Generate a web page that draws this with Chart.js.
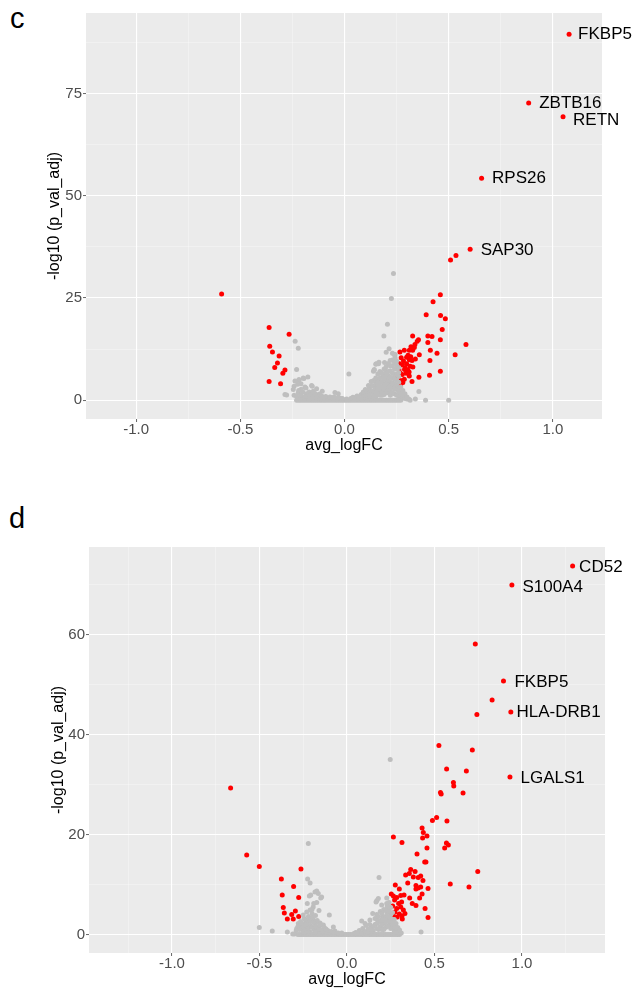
<!DOCTYPE html>
<html>
<head>
<meta charset="utf-8">
<script src="https://cdn.jsdelivr.net/npm/chart.js@4"></script>
<style>
  body { margin: 0; background: #fff; width: 632px; height: 990px; position: relative; overflow: hidden;
         font-family: "Liberation Sans", Arial, sans-serif; }
  .tag { position: absolute; font-size: 29px; line-height: 1; color: #000; }
  .box { position: absolute; left: 0; width: 632px; }
</style>
</head>
<body>
<div class="tag" style="left:10px; top:4px;">c</div>
<div class="box" style="top:0; height:460px;"><canvas id="chartC"></canvas></div>
<div class="tag" style="left:9px; top:504px;">d</div>
<div class="box" style="top:500px; height:490px;"><canvas id="chartD"></canvas></div>

<script>
// ---- panel c ----
const cBandX = [-0.23,-0.22,-0.21,-0.2,-0.19,-0.18,-0.17,-0.16,-0.15,-0.14,-0.13,-0.12,-0.11,-0.1,-0.09,-0.08,-0.07,-0.06,-0.05,-0.04,-0.03,-0.02,-0.01,0,0.01,0.02,0.03,0.04,0.05,0.06,0.07,0.08,0.09,0.1,0.11,0.12,0.13,0.14,0.15,0.16,0.17,0.18,0.19,0.2,0.21,0.22,0.23,0.24,0.25,0.26,0.27];
const cGrey = [
  [-0.237,14.4],[-0.222,12.7],[-0.230,7.5],[-0.218,5.0],[-0.195,5.3],[-0.176,5.7],[-0.198,5.4],[-0.219,5.0],
  [-0.238,4.7],[-0.209,4.0],[-0.158,3.6],[-0.190,3.2],[-0.134,2.8],[-0.246,2.6],[-0.107,2.2],[-0.046,1.9],
  [-0.030,1.6],[-0.286,1.4],[-0.242,1.2],[-0.222,1.8],[-0.278,1.3],[-0.242,3.4],[-0.225,3.9],[-0.208,2.7],
  [-0.185,3.0],[-0.155,3.4],[-0.182,1.6],[-0.150,1.3],[-0.2,0.7],[-0.18,0.9],[-0.16,0.6],[-0.14,0.8],
  [-0.12,0.5],[-0.1,0.7],[-0.08,0.4],[-0.06,0.6],[-0.04,0.3],[-0.02,0.5],[-0.215,0.5],[-0.17,1.1],[-0.13,1.2],
  [-0.23,0.9],[-0.22,2.4],[-0.21,1.3],[-0.20,2.0],[-0.19,0.9],[-0.17,2.0],[-0.16,1.4],[-0.15,2.2],
  [-0.14,1.6],[-0.12,1.5],[-0.11,1.0],[-0.09,0.9],[-0.07,0.8],[-0.05,0.8],[-0.03,0.6],[-0.01,0.4],
  [0.01,0.3],[0.03,0.4],[0.04,0.7],[0.06,0.3],
  [0.021,6.4],
  [0.05,0.6],[0.06,1.0],[0.07,0.5],[0.08,1.4],[0.09,0.9],[0.10,1.8],[0.10,0.6],[0.11,2.4],[0.11,1.2],
  [0.12,1.6],[0.12,3.0],[0.13,0.8],[0.13,2.2],[0.14,3.5],[0.14,1.5],[0.15,2.8],[0.15,4.2],[0.15,0.9],
  [0.16,3.6],[0.16,1.9],[0.16,5.0],[0.17,2.6],[0.17,4.4],[0.17,1.2],[0.18,3.2],[0.18,5.6],[0.18,2.0],
  [0.19,4.0],[0.19,6.2],[0.19,1.4],[0.20,2.8],[0.20,5.0],[0.20,7.0],[0.21,3.6],[0.21,6.0],[0.21,1.8],
  [0.22,4.4],[0.22,7.2],[0.22,2.6],[0.23,5.4],[0.23,8.4],[0.23,3.2],[0.24,6.4],[0.24,9.2],[0.24,4.0],
  [0.24,1.6],[0.25,7.6],[0.25,5.0],[0.25,2.6],[0.26,3.0],[0.26,1.0],[0.27,2.0],[0.27,0.5],
  [0.08,0.4],[0.09,2.0],[0.10,2.6],[0.11,0.4],[0.12,0.9],[0.13,3.6],[0.14,2.4],[0.14,4.8],[0.15,1.8],
  [0.15,5.4],[0.16,2.8],[0.16,4.2],[0.16,6.4],[0.17,3.4],[0.17,5.4],[0.17,7.0],[0.18,1.2],[0.18,4.4],
  [0.18,6.6],[0.19,2.4],[0.19,3.2],[0.19,5.2],[0.19,7.6],[0.20,1.8],[0.20,4.0],[0.20,6.0],[0.20,8.2],
  [0.21,2.6],[0.21,4.8],[0.21,7.0],[0.21,9.0],[0.22,1.2],[0.22,3.4],[0.22,5.6],[0.22,8.4],[0.23,1.8],
  [0.23,4.2],[0.23,6.6],[0.23,9.8],[0.24,2.8],[0.24,5.2],[0.24,7.6],[0.25,1.2],[0.25,3.8],[0.25,6.2],
  [0.25,8.6],[0.26,2.0],[0.26,4.4],[0.26,6.8],[0.27,3.2],[0.27,1.2],[0.28,2.4],[0.28,0.6],[0.29,1.6],
  [0.30,0.3],[0.31,0.2],
  [0.143,7.5],[0.139,7.1],[0.163,8.9],[0.150,8.8],[0.192,9.2],[0.200,11.7],[0.243,11.2],[0.230,11.5],
  [0.189,15.7],[0.214,12.6],[0.206,18.6],[0.225,24.9],[0.235,31.0],[0.238,11.2],[0.243,10.4],[0.219,9.7],
  [0.165,9.3],[0.152,8.9],[0.142,7.3],[0.128,4.6],[0.115,3.6],[0.357,2.1],[0.315,0],[0.389,0],[0.500,0],
  [0.29,0.4],[0.28,1.2],[0.30,0.8],[0.34,0.3],[0.26,5.8],[0.25,9.6],[0.26,8.0]
];
const cRed = [
  [-0.59,26.0],[-0.362,17.8],[-0.266,16.1],[-0.359,13.2],[-0.346,11.8],[-0.314,10.8],[-0.322,9.1],
  [-0.335,8.0],[-0.286,7.4],[-0.296,6.6],[-0.362,4.6],[-0.307,4.0],
  [0.535,35.4],[0.509,34.3],[0.460,25.8],[0.425,24.1],[0.392,20.9],[0.461,20.7],[0.484,19.9],[0.469,17.3],
  [0.327,15.7],[0.400,15.7],[0.420,15.6],[0.355,14.8],[0.349,14.4],[0.460,14.8],[0.400,14.1],[0.583,13.6],
  [0.338,13.6],[0.319,13.1],[0.311,12.2],[0.327,12.2],[0.412,12.2],[0.287,12.2],[0.266,11.8],[0.444,11.5],
  [0.531,11.1],[0.359,11.1],[0.272,10.4],[0.298,10.5],[0.311,9.9],[0.324,9.7],[0.410,9.7],[0.264,8.9],
  [0.278,8.6],[0.298,8.9],[0.315,8.3],[0.328,8.1],[0.261,7.5],[0.288,7.5],[0.304,7.4],[0.460,7.1],
  [0.256,6.3],[0.277,6.3],[0.296,6.6],[0.311,5.9],[0.408,6.1],[0.357,5.6],[0.251,5.4],[0.267,4.9],
  [0.287,5.1],[0.324,4.6],[0.270,3.9],[0.256,3.6],[0.283,9.6],[0.305,11.0],[0.318,10.6],[0.292,7.9],
  [0.265,6.8],[0.280,4.3],[0.310,6.9],[0.335,12.9],[0.340,10.1]
];
const cGenes = ["FKBP5", "ZBTB16", "RETN", "RPS26", "SAP30"];
const cGeneX = [1.078, 0.884, 1.049, 0.658, 0.603];
const cGeneY = [89.5, 72.7, 69.3, 54.3, 36.9];

// ---- panel d ----
const dBandX = [-0.28,-0.27,-0.26,-0.25,-0.24,-0.23,-0.22,-0.21,-0.2,-0.19,-0.18,-0.17,-0.16,-0.15,-0.14,-0.13,-0.12,-0.11,-0.1,-0.09,-0.08,-0.07,-0.06,-0.05,-0.04,-0.03,-0.02,-0.01,0,0.01,0.02,0.03,0.04,0.05,0.06,0.07,0.08,0.09,0.1,0.11,0.12,0.13,0.14,0.15,0.16,0.17,0.18,0.19,0.2,0.21,0.22,0.23,0.24,0.25,0.26,0.27,0.28,0.29,0.3];
const dGrey = [
  [0.247,35.0],[-0.221,18.2],[-0.225,11.1],[-0.211,10.3],[-0.173,8.7],[-0.215,7.7],[-0.150,7.3],
  [0.183,11.4],[0.171,6.8],[0.179,7.2],[0.227,7.3],[0.084,2.7],[-0.501,1.4],[-0.427,0.7],[-0.341,0.5],
  [-0.30,0.1],[0.423,0.5],
  [-0.183,8.5],[-0.145,7.5],[-0.164,8.2],[-0.207,7.9],[-0.227,6.2],[-0.173,6.4],[-0.193,5.5],[-0.101,3.9],
  [-0.211,4.9],[-0.250,3.9],[-0.278,2.2],[-0.230,2.5],[-0.193,3.0],[-0.154,2.3],[-0.135,1.9],[-0.287,1.2],
  [-0.250,0.9],[-0.211,0.5],[-0.310,0.1],[-0.078,1.5],[-0.069,0.7],[-0.173,1.2],
  [0.166,6.5],[0.198,5.9],[0.227,6.2],[0.147,4.2],[0.131,2.9],[0.103,2.2],[0.173,3.0],[0.207,3.5],
  [0.236,4.9],[0.246,5.5],
  [0.10,0.6],[0.12,1.0],[0.14,1.4],[0.15,0.7],[0.16,2.0],[0.17,1.2],[0.18,2.6],[0.19,1.6],[0.20,3.0],
  [0.20,1.0],[0.21,2.2],[0.22,3.6],[0.22,1.4],[0.23,2.8],[0.23,4.4],[0.24,1.8],[0.24,3.4],[0.25,2.4],
  [0.25,4.0],[0.25,5.4],[0.26,1.4],[0.26,3.0],[0.27,2.0],[0.27,0.8],[0.28,1.2],[0.29,0.6],[0.30,0.3],
  [0.05,0.4],[0.07,0.8],[0.09,1.2],[0.11,1.8],[0.13,2.0],[0.08,0.3],
  [0.15,1.6],[0.16,3.2],[0.17,2.2],[0.17,4.0],[0.18,1.0],[0.18,3.6],[0.19,2.6],[0.19,4.6],[0.20,2.0],
  [0.20,4.2],[0.21,3.0],[0.21,5.0],[0.21,1.0],[0.22,2.4],[0.22,4.8],[0.23,1.6],[0.23,3.6],[0.23,5.6],
  [0.24,2.6],[0.24,4.6],[0.24,6.4],[0.25,1.2],[0.25,3.2],[0.26,2.2],[0.26,4.4],[0.27,1.4],[0.27,3.0],
  [0.28,2.2],[0.28,0.4],[0.29,1.4],[0.30,0.9],[0.31,0.3],[0.12,0.4],[0.13,1.1],[0.14,0.6],[0.06,0.3],
  [0.04,0.2],
  [-0.26,1.6],[-0.24,2.2],[-0.23,1.4],[-0.22,2.8],[-0.21,1.8],[-0.20,3.4],[-0.19,1.0],[-0.18,2.2],
  [-0.17,0.6],[-0.16,1.6],[-0.15,0.4],[-0.14,1.0],[-0.12,0.6],[-0.10,0.4],[-0.245,3.2],[-0.265,2.6],
  [-0.23,4.5],[-0.20,5.0],[-0.25,0.5],[-0.22,0.6],[-0.18,0.5],[-0.13,0.5],[-0.08,0.4],
  [-0.29,0.8],[-0.28,1.6],[-0.27,1.0],[-0.26,2.2],[-0.25,1.4],[-0.24,3.0],[-0.24,1.0],[-0.23,2.0],
  [-0.22,3.6],[-0.22,1.2],[-0.21,2.6],[-0.20,1.5],[-0.20,4.2],[-0.19,2.4],[-0.19,6.2],[-0.18,1.6],
  [-0.18,3.8],[-0.17,2.8],[-0.16,1.0],[-0.16,4.8],[-0.15,2.0],[-0.14,0.6],[-0.13,1.4],[-0.12,1.1],
  [-0.11,0.8],[-0.09,0.6],[-0.07,0.4],[-0.05,0.3],[-0.03,0.3]
];
const dRed = [
  [-0.665,29.3],[-0.573,15.9],[-0.501,13.6],[-0.263,13.1],[-0.375,11.1],[-0.305,9.6],[-0.370,7.9],
  [-0.276,7.4],[-0.364,5.4],[-0.295,4.7],[-0.316,4.0],[-0.358,4.3],[-0.341,3.1],[-0.307,3.1],[-0.276,3.6],
  [0.733,58.1],[0.829,46.9],[0.742,44.0],[0.525,37.8],[0.716,36.9],[0.569,33.1],[0.682,32.7],[0.608,30.4],
  [0.610,29.7],[0.534,28.4],[0.538,28.1],[0.663,28.3],[0.512,23.4],[0.488,22.8],[0.571,22.7],[0.429,21.3],
  [0.436,20.4],[0.432,19.3],[0.457,19.7],[0.265,19.5],[0.314,18.4],[0.568,18.3],[0.579,17.9],[0.558,17.3],
  [0.457,17.3],[0.400,16.1],[0.444,14.5],[0.451,14.5],[0.747,12.6],[0.364,13.0],[0.389,12.6],[0.335,11.9],
  [0.356,12.2],[0.379,11.5],[0.407,11.4],[0.421,11.7],[0.434,10.8],[0.347,10.3],[0.590,10.1],[0.697,9.5],
  [0.394,9.8],[0.406,9.3],[0.421,9.5],[0.394,9.1],[0.463,9.2],[0.276,9.9],[0.299,9.1],[0.429,8.1],
  [0.253,8.1],[0.265,7.7],[0.284,7.4],[0.307,7.8],[0.326,7.9],[0.358,7.3],[0.415,7.3],[0.373,6.2],
  [0.394,5.8],[0.446,5.2],[0.463,3.4],[0.272,6.9],[0.295,6.2],[0.312,6.5],[0.261,5.7],[0.284,5.2],
  [0.307,5.5],[0.322,4.9],[0.274,4.5],[0.299,4.1],[0.265,3.7],[0.287,3.5],[0.314,3.7],[0.255,3.4],
  [0.316,3.1],[0.331,4.2]
];
const dGenes = ["CD52", "S100A4", "FKBP5", "HLA-DRB1", "LGALS1"];
const dGeneX = [1.289, 0.942, 0.894, 0.936, 0.931];
const dGeneY = [73.7, 69.9, 50.7, 44.5, 31.5];

// label nudges in pixels (ggrepel-ish placement)
const nudgeC = { FKBP5: [9, 0], ZBTB16: [10.5, 0], RETN: [10, 3], RPS26: [10.5, 0], SAP30: [10.5, 0.5] };
const nudgeD = { CD52: [6.5, 1.5], S100A4: [10.5, 2], FKBP5: [11, 1], "HLA-DRB1": [5.7, 0.6], LGALS1: [10.5, 1.3] };

Chart.defaults.font.family = '"Liberation Sans", Arial, sans-serif';

const isMajor = (v, m) => Math.abs(v / m - Math.round(v / m)) < 1e-6;

const panelBg = {
  id: "panelBg",
  beforeDraw(chart) {
    const { ctx, chartArea: a } = chart;
    ctx.save();
    ctx.fillStyle = "#EBEBEB";
    ctx.fillRect(a.left, a.top, a.right - a.left, a.bottom - a.top);
    ctx.restore();
  }
};

const geneLabels = {
  id: "geneLabels",
  afterDatasetsDraw(chart, args, opts) {
    const { ctx, scales: { x, y } } = chart;
    ctx.save();
    ctx.font = '17px "Liberation Sans", Arial, sans-serif';
    ctx.fillStyle = "#000";
    ctx.textAlign = "left";
    ctx.textBaseline = "middle";
    opts.names.forEach((name, i) => {
      const n = opts.nudge[name] || [10, 0];
      ctx.fillText(name, x.getPixelForValue(opts.xs[i]) + n[0], y.getPixelForValue(opts.ys[i]) + n[1]);
    });
    ctx.restore();
  }
};

function makePanel(id, p) {
  const toPts = arr => arr.map(d => ({ x: d[0], y: d[1] }));
  const band = p.bandX.map(v => ({ x: v, y: 0 }));
  const labelled = p.geneX.map((v, i) => ({ x: v, y: p.geneY[i] }));
  new Chart(document.getElementById(id), {
    type: "scatter",
    data: {
      datasets: [
        { data: band.concat(toPts(p.grey)), backgroundColor: "#BEBEBE", pointRadius: 2.5, borderWidth: 0 },
        { data: toPts(p.red).concat(labelled), backgroundColor: "#FF0000", pointRadius: 2.5, borderWidth: 0 }
      ]
    },
    options: {
      responsive: true,
      maintainAspectRatio: false,
      animation: false,
      layout: { padding: { top: p.padTop, right: p.padRight, left: 0, bottom: 0 } },
      plugins: {
        legend: { display: false },
        tooltip: { enabled: false },
        geneLabels: { names: p.genes, xs: p.geneX, ys: p.geneY, nudge: p.nudge }
      },
      scales: {
        x: {
          type: "linear",
          min: p.xRange[0],
          max: p.xRange[1],
          border: { display: false },
          afterFit: s => { s.height = p.xAxisH; },
          grid: {
            color: c => isMajor(c.tick.value, 0.5) ? "#FFFFFF" : "rgba(255,255,255,0.6)",
            lineWidth: c => isMajor(c.tick.value, 0.5) ? 1.1 : 0.55,
            tickLength: 3,
            tickColor: c => isMajor(c.tick.value, 0.5) ? "#666" : "rgba(0,0,0,0)",
            tickWidth: 1
          },
          ticks: {
            stepSize: 0.25,
            includeBounds: false,
            autoSkip: false,
            maxRotation: 0,
            padding: 0,
            color: "#4D4D4D",
            font: { size: 15, lineHeight: 1 },
            callback: v => isMajor(v, 0.5) ? v.toFixed(1) : ""
          },
          title: { display: true, text: "avg_logFC", color: "#000", font: { size: 16 }, padding: { top: 0, bottom: p.xTitlePad } }
        },
        y: {
          type: "linear",
          min: p.yRange[0],
          max: p.yRange[1],
          border: { display: false },
          afterFit: s => { s.width = p.yAxisW; },
          grid: {
            color: c => isMajor(c.tick.value, p.yMajor) ? "#FFFFFF" : "rgba(255,255,255,0.6)",
            lineWidth: c => isMajor(c.tick.value, p.yMajor) ? 1.1 : 0.55,
            tickLength: 3,
            tickColor: c => isMajor(c.tick.value, p.yMajor) ? "#666" : "rgba(0,0,0,0)",
            tickWidth: 1
          },
          ticks: {
            stepSize: p.yMajor / 2,
            includeBounds: false,
            autoSkip: false,
            padding: 1,
            color: "#4D4D4D",
            font: { size: 15, lineHeight: 1 },
            callback: v => isMajor(v, p.yMajor) ? String(v) : ""
          },
          title: { display: true, text: "-log10 (p_val_adj)", color: "#000", font: { size: 16 }, padding: { top: p.yTitlePad, bottom: 0 } }
        }
      }
    },
    plugins: [panelBg, geneLabels]
  });
}

makePanel("chartC", {
  bandX: cBandX, grey: cGrey, red: cRed, genes: cGenes, geneX: cGeneX, geneY: cGeneY, nudge: nudgeC,
  xRange: [-1.241, 1.236], yRange: [-4.6, 94.7], yMajor: 25,
  padTop: 13, padRight: 30, xAxisH: 41, yAxisW: 86, xTitlePad: 4.4, yTitlePad: 45
});

makePanel("chartD", {
  bandX: dBandX, grey: dGrey, red: dRed, genes: dGenes, geneX: dGeneX, geneY: dGeneY, nudge: nudgeD,
  xRange: [-1.474, 1.474], yRange: [-3.7, 77.5], yMajor: 20,
  padTop: 47, padRight: 27, xAxisH: 37, yAxisW: 89, xTitlePad: 0.4, yTitlePad: 49
});
</script>
</body>
</html>
